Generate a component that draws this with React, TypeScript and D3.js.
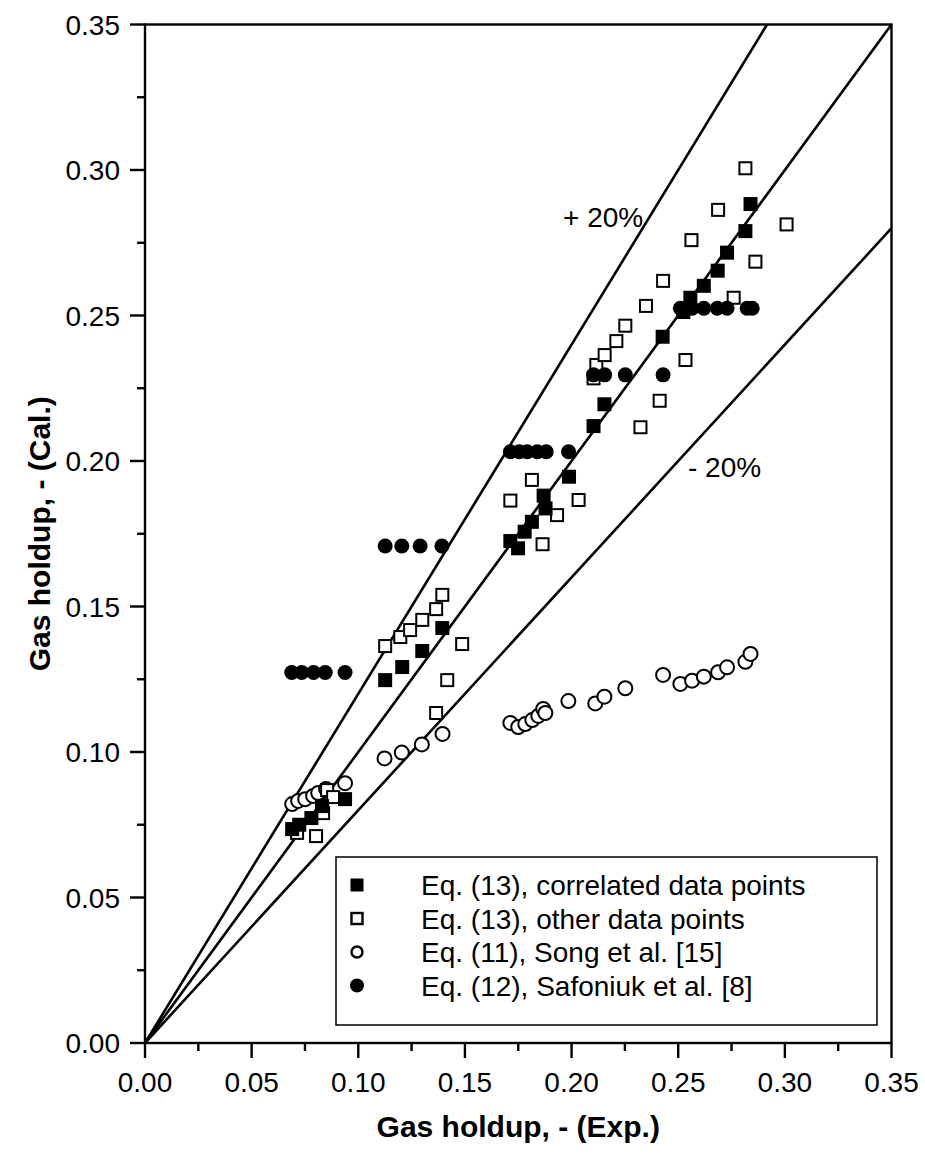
import React from "react";
import * as d3 from "d3";

const correlatedX = [0.069, 0.0723, 0.078, 0.083, 0.0938, 0.1126, 0.1206, 0.130, 0.1394, 0.1713, 0.1749, 0.178, 0.1814, 0.1869, 0.1878, 0.1988, 0.2103, 0.2154, 0.2427, 0.2524, 0.2557, 0.262, 0.2685, 0.2729, 0.2815, 0.2839];
const correlatedY = [0.0735, 0.075, 0.0773, 0.0814, 0.0838, 0.1247, 0.1292, 0.1347, 0.1426, 0.1725, 0.170, 0.1757, 0.1791, 0.1881, 0.1837, 0.1946, 0.212, 0.2195, 0.2427, 0.2512, 0.2561, 0.2602, 0.2654, 0.2716, 0.279, 0.2883];

const otherX = [0.0713, 0.0802, 0.0835, 0.0854, 0.0882, 0.1126, 0.1197, 0.1243, 0.130, 0.1365, 0.1394, 0.1487, 0.1417, 0.1365, 0.1814, 0.1713, 0.2033, 0.1932, 0.1864, 0.2103, 0.2116, 0.2155, 0.221, 0.2252, 0.2349, 0.2429, 0.2562, 0.2687, 0.2815, 0.3008, 0.2862, 0.276, 0.2534, 0.2413, 0.2323];
const otherY = [0.0722, 0.0711, 0.079, 0.0869, 0.0845, 0.1364, 0.1395, 0.1419, 0.1454, 0.1491, 0.154, 0.1371, 0.1247, 0.1134, 0.1935, 0.1864, 0.1866, 0.1814, 0.1714, 0.2284, 0.233, 0.2364, 0.2412, 0.2465, 0.2533, 0.2619, 0.2759, 0.2863, 0.3006, 0.2813, 0.2685, 0.2561, 0.2347, 0.2207, 0.2116];

const songX = [0.069, 0.0718, 0.0751, 0.0788, 0.0812, 0.0849, 0.0938, 0.1123, 0.1204, 0.1298, 0.1395, 0.1713, 0.175, 0.1783, 0.1816, 0.1844, 0.1867, 0.1877, 0.1985, 0.2111, 0.2154, 0.2252, 0.2429, 0.251, 0.2565, 0.262, 0.2687, 0.2729, 0.2815, 0.2839];
const songY = [0.0821, 0.0832, 0.0838, 0.0849, 0.0859, 0.0873, 0.0893, 0.0978, 0.0998, 0.1026, 0.1062, 0.110, 0.1086, 0.1096, 0.111, 0.1124, 0.1148, 0.1134, 0.1175, 0.1167, 0.119, 0.1219, 0.1265, 0.1234, 0.1245, 0.1259, 0.1274, 0.1291, 0.131, 0.1337];

const safoniukX = [0.0688, 0.0735, 0.079, 0.0845, 0.0938, 0.1126, 0.1204, 0.129, 0.1392, 0.1713, 0.1755, 0.1792, 0.1839, 0.1881, 0.1986, 0.2103, 0.2155, 0.2252, 0.2429, 0.251, 0.2565, 0.262, 0.2683, 0.2729, 0.2823, 0.2847];
const safoniukY = [0.1273, 0.1273, 0.1273, 0.1273, 0.1273, 0.1708, 0.1708, 0.1708, 0.1708, 0.2032, 0.2032, 0.2032, 0.2032, 0.2032, 0.2032, 0.2296, 0.2296, 0.2296, 0.2296, 0.2525, 0.2525, 0.2525, 0.2525, 0.2525, 0.2525, 0.2525];

const majorTicks = [0, 0.05, 0.1, 0.15, 0.2, 0.25, 0.3, 0.35];
const minorTicks = [0.025, 0.075, 0.125, 0.175, 0.225, 0.275, 0.325];
const lineFactors = [1.2, 1.0, 0.8];
const legendLabels = [
  "Eq. (13), correlated data points",
  "Eq. (13), other data points",
  "Eq. (11), Song et al. [15]",
  "Eq. (12), Safoniuk et al. [8]",
];

const W = 925, H = 1156;
const L = 145, R = 891.5, T = 24.5, B = 1043;
const FONT = "'Liberation Sans', Arial, Helvetica, sans-serif";

export default function App() {
  const x = d3.scaleLinear().domain([0, 0.35]).range([L, R]);
  const y = d3.scaleLinear().domain([0, 0.35]).range([B, T]);
  const zip = (a: number[], b: number[]) => a.map((v, i) => [v, b[i]] as [number, number]);
  const sq = 14;
  const cr = 7;

  const lines = lineFactors.map((f) => {
    const xEnd = Math.min(0.35, 0.35 / f);
    return { x1: x(0), y1: y(0), x2: x(xEnd), y2: y(xEnd * f) };
  });

  const legendMarker = (i: number, cx: number, cy: number) => {
    if (i === 0) return <rect x={cx - 6.5} y={cy - 6.5} width={13} height={13} fill="#000" />;
    if (i === 1) return <rect x={cx - 5.5} y={cy - 5.5} width={11} height={11} fill="#fff" stroke="#000" strokeWidth={2.4} />;
    if (i === 2) return <circle cx={cx} cy={cy} r={5.5} fill="#fff" stroke="#000" strokeWidth={2.4} />;
    return <circle cx={cx} cy={cy} r={7} fill="#000" />;
  };

  return (
    <svg width={W} height={H} style={{ position: "absolute", left: 0, top: 0, background: "#fff" }} fontFamily={FONT}>
      <rect x={0} y={0} width={W} height={H} fill="#fff" />
      {lines.map((l, i) => (
        <line key={i} x1={l.x1} y1={l.y1} x2={l.x2} y2={l.y2} stroke="#000" strokeWidth={2.6} />
      ))}
      {zip(songX, songY).map(([a, b], i) => (
        <circle key={"s" + i} cx={x(a)} cy={y(b)} r={cr} fill="#fff" stroke="#000" strokeWidth={2} />
      ))}
      {zip(otherX, otherY).map(([a, b], i) => (
        <rect key={"o" + i} x={x(a) - sq / 2 + 1} y={y(b) - sq / 2 + 1} width={sq - 2} height={sq - 2} fill="#fff" stroke="#000" strokeWidth={2} />
      ))}
      {zip(correlatedX, correlatedY).map(([a, b], i) => (
        <rect key={"c" + i} x={x(a) - sq / 2} y={y(b) - sq / 2} width={sq} height={sq} fill="#000" />
      ))}
      {zip(safoniukX, safoniukY).map(([a, b], i) => (
        <circle key={"f" + i} cx={x(a)} cy={y(b)} r={7.5} fill="#000" />
      ))}
      <text x={563} y={227} fontSize={28} fill="#000">+ 20%</text>
      <text x={688} y={477} fontSize={28} fill="#000">- 20%</text>
      <rect x={336} y={857} width={541} height={168} fill="#fff" stroke="#000" strokeWidth={1.5} />
      {legendLabels.map((t, i) => (
        <g key={"l" + i}>
          {legendMarker(i, 357, 885 + i * 33.5)}
          <text x={421} y={885 + i * 33.5 + 10} fontSize={28} fill="#000">{t}</text>
        </g>
      ))}
      <rect x={L} y={T} width={R - L} height={B - T} fill="none" stroke="#000" strokeWidth={2.4} />
      {majorTicks.map((v) => (
        <g key={"xt" + v}>
          <line x1={x(v)} x2={x(v)} y1={B} y2={B + 15} stroke="#000" strokeWidth={2.4} />
          <text x={x(v)} y={1092} fontSize={28} textAnchor="middle" fill="#000">{v.toFixed(2)}</text>
        </g>
      ))}
      {minorTicks.map((v) => (
        <line key={"xm" + v} x1={x(v)} x2={x(v)} y1={B} y2={B + 8} stroke="#000" strokeWidth={2.4} />
      ))}
      {majorTicks.map((v) => (
        <g key={"yt" + v}>
          <line x1={L - 15} x2={L} y1={y(v)} y2={y(v)} stroke="#000" strokeWidth={2.4} />
          <text x={120} y={y(v) + 10} fontSize={28} textAnchor="end" fill="#000">{v.toFixed(2)}</text>
        </g>
      ))}
      {minorTicks.map((v) => (
        <line key={"ym" + v} x1={L - 8} x2={L} y1={y(v)} y2={y(v)} stroke="#000" strokeWidth={2.4} />
      ))}
      <text x={(L + R) / 2} y={1137} fontSize={30} fontWeight="bold" textAnchor="middle" fill="#000">Gas holdup, - (Exp.)</text>
      <text transform={`translate(50, ${(T + B) / 2}) rotate(-90)`} fontSize={30} fontWeight="bold" textAnchor="middle" fill="#000">Gas holdup, - (Cal.)</text>
    </svg>
  );
}
